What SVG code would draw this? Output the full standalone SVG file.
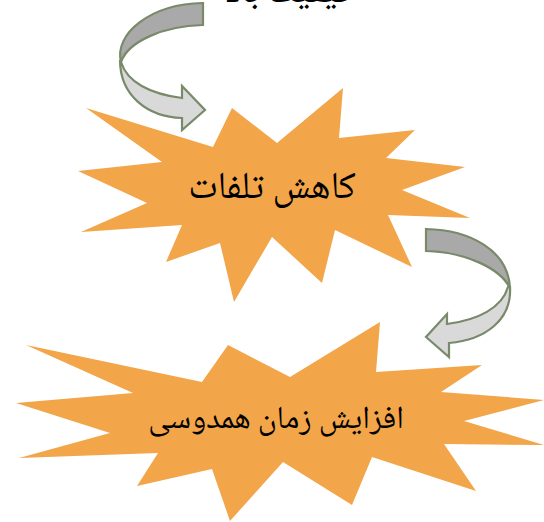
<svg xmlns="http://www.w3.org/2000/svg" width="544" height="522" viewBox="0 0 544 522">
<style>
.star{fill:#f2a549;stroke:none}
.dark{fill:#a9a9a9;stroke:#788a69;stroke-width:2.2;stroke-linejoin:miter}
.light{fill:#d9d9d9;stroke:#788a69;stroke-width:2.2;stroke-linejoin:miter}
.lbl{font-family:"Noto Naskh Arabic","Noto Sans Arabic","DejaVu Sans",sans-serif;fill:#000;text-anchor:middle;direction:rtl}
</style>
<rect width="544" height="522" fill="#fff"/>
<g id="node-top">
<text class="lbl" x="287" y="2" font-size="36">کیفیت بالا</text>
</g>
<g id="connectors">
<g id="arrow1">
<path class="dark" d="M203,3 L203,25 C162,26 128,42 121,62 C114,34 150,4 203,3 Z"/>
<path class="light" d="M121,62 C127,82 150,94 182,98 L182,86 L205,110 L182,130 L182,118 C148,117 120,96 120,60 Z"/>
</g>
<g id="arrow2">
<path class="dark" d="M426,229 C470,230 508,250 510,288 C500,268 465,252 426,251 Z"/>
<path class="light" d="M510,287 C512,320 485,340 449,343 L449,357 L426,337 L447,314 L447,324 C478,320 502,308 508,287 Z"/>
</g>
</g>
<g id="node-kahesh">
<polygon class="star" points="86,108 213,147 232,108 277,143 343,88 339,138 415,130 386,158 465,167 402,190 470,218 388,215 412,267 335,230 322,283 272,237 234,302 220,243 166,262 182,225 81,232 147,203 78,171 162,162"/>
<text class="lbl" x="272" y="198" font-size="38">کاهش تلفات</text>
</g>
<g id="node-afzayesh">
<polygon class="star" points="26,345 202,382 228,345 290,377 380,322 376,372 482,365 441,392 544,400 464,421 544,445 444,444 476,491 372,457 352,505 283,462 230,521 212,469 137,486 158,453 19,458 110,433 16,403 133,393"/>
<text class="lbl" x="276" y="428" font-size="32">افزایش زمان همدوسی</text>
</g>
</svg>
